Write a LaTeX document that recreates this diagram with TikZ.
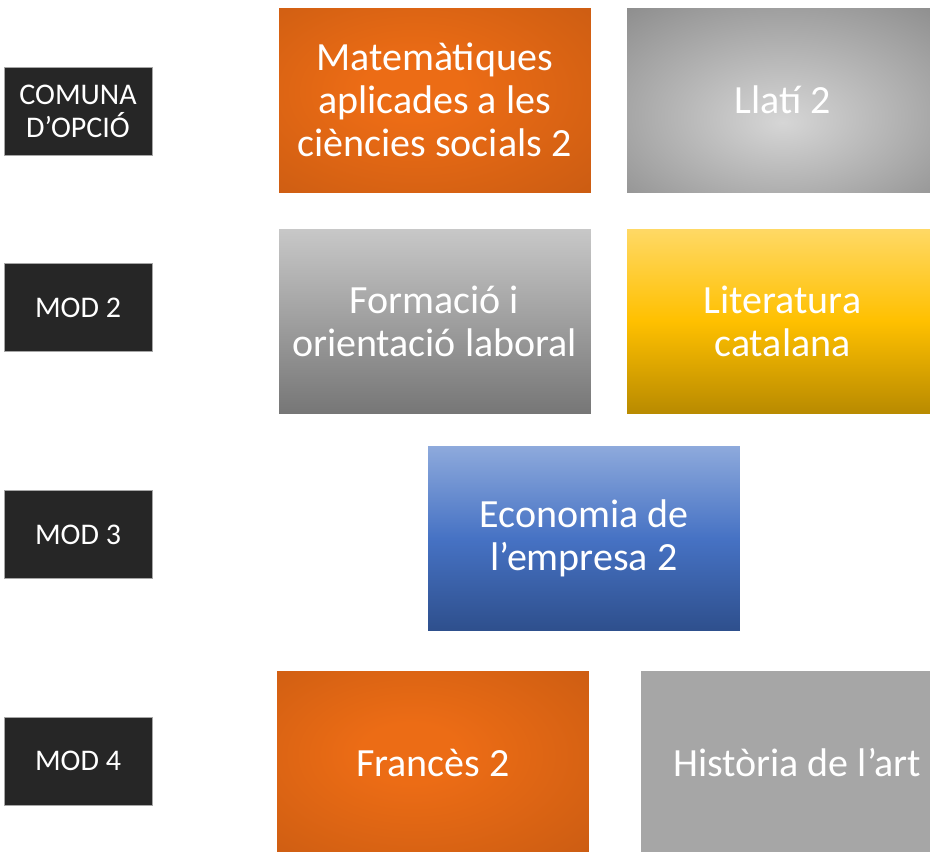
\documentclass[tikz,border=0pt]{standalone}
\usepackage{fontspec}
\setmainfont{Carlito}
\usetikzlibrary{positioning}

\definecolor{fosc}{HTML}{262626}
\definecolor{taronjaclar}{HTML}{EC6C15}
\definecolor{taronjafosc}{HTML}{BC5511}
\definecolor{grisclar}{HTML}{D6D6D6}
\definecolor{grisfosc}{HTML}{6A6A6A}
\definecolor{grislindalt}{HTML}{C8C8C8}
\definecolor{grislinbaix}{HTML}{767676}
\definecolor{blaudalt}{HTML}{8EAADC}
\definecolor{blaumig}{HTML}{4672C4}
\definecolor{blaubaix}{HTML}{2E4F8C}
\definecolor{grocdalt}{HTML}{FFD966}
\definecolor{grocmig}{HTML}{FFC000}
\definecolor{grocbaix}{HTML}{B88A00}

\pgfdeclareradialshading{taronjaradial}{\pgfpoint{-4bp}{3bp}}{color(0bp)=(taronjaclar); color(8bp)=(taronjaclar); color(52bp)=(taronjafosc); color(75bp)=(taronjafosc)}
\pgfdeclareradialshading{grisradial}{\pgfpoint{0bp}{-6bp}}{color(0bp)=(grisclar); color(56bp)=(grisfosc); color(75bp)=(grisfosc)}

\begin{document}
\begin{tikzpicture}[x=1pt, y=-1pt,
    node distance=34pt,
    etiqueta/.style={rectangle, draw=gray!70, line width=0.8pt, fill=fosc, text=white, minimum width=148pt, minimum height=88pt, inner sep=0pt, align=center, font=\fontsize{30}{33}\selectfont},
    materia/.style={rectangle, draw=white, line width=1pt, text=white, minimum width=313pt, minimum height=186pt, inner sep=0pt, align=center, font=\fontsize{40}{43}\selectfont},
    taronja/.style={materia, shading=taronjaradial},
    grisrad/.style={materia, shading=grisradial},
    grislin/.style={materia, top color=grislindalt, bottom color=grislinbaix},
    groc/.style={materia, top color=grocdalt, bottom color=grocbaix, middle color=grocmig},
    blau/.style={materia, top color=blaudalt, bottom color=blaubaix, middle color=blaumig},
    plana/.style={materia, fill=gray!70}
]
    \useasboundingbox (0,0) rectangle (930,852);

    % Etiquetes
    \node[etiqueta] (comuna) at (78,111) {COMUNA\\D’OPCIÓ};
    \node[etiqueta] (mod2) at (78,307.5) {MOD 2};
    \node[etiqueta] (mod3) at (78,534.5) {MOD 3};
    \node[etiqueta] (mod4) at (78,761) {MOD 4};

    % Materies
    \node[taronja] (mates) at (434.5,100) {Matemàtiques\\aplicades a les\\ciències socials 2};
    \node[grisrad, right=of mates] (llati) {Llatí 2};

    \node[grislin] (fol) at (434.5,321) {Formació i\\orientació laboral};
    \node[groc, right=of fol] (literatura) {Literatura\\catalana};

    \node[blau] (economia) at (584,538.5) {Economia de\\l’empresa 2};

    \node[taronja] (frances) at (433,763) {Francès 2};
    \node[plana, right=50pt of frances] (historia) {Història de l’art};

\end{tikzpicture}
\end{document}
